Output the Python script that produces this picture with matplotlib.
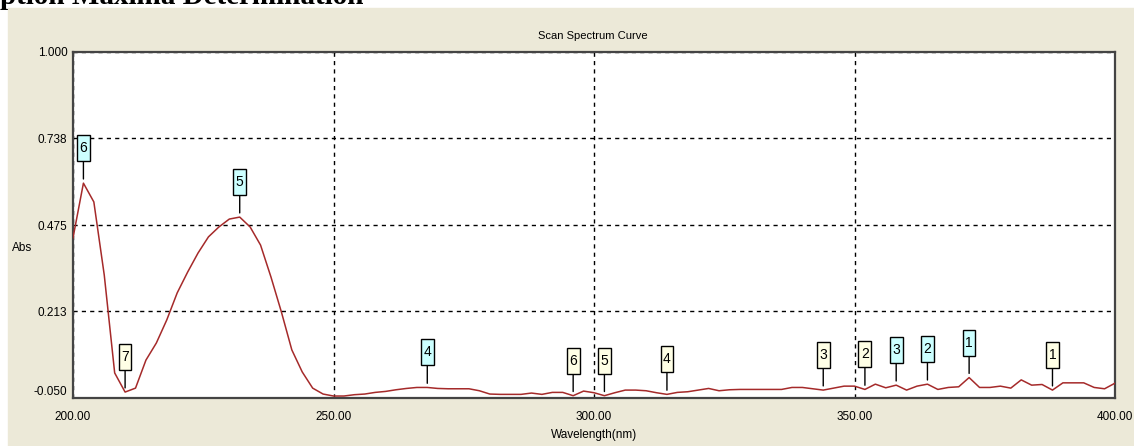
import matplotlib
matplotlib.use('Agg')
import matplotlib.pyplot as plt
from matplotlib.patches import Rectangle
from matplotlib.path import Path
import numpy as np

# scan from 200 to 400 nm, 2 nm step
wavelength = np.arange(200, 401, 2)
absorbance = [
    0.436, 0.602, 0.545, 0.323, 0.026, -0.032, -0.020, 0.065, 0.117, 0.187,   # 200-218
    0.269, 0.332, 0.390, 0.439, 0.469, 0.493, 0.499, 0.469, 0.414, 0.317,     # 220-238
    0.211, 0.096, 0.029, -0.020, -0.038, -0.044, -0.044, -0.040, -0.038, -0.033,  # 240-258
    -0.030, -0.025, -0.021, -0.018, -0.018, -0.021, -0.022, -0.022, -0.022, -0.028,  # 260-278
    -0.038, -0.039, -0.039, -0.039, -0.035, -0.039, -0.033, -0.033, -0.043, -0.029,  # 280-298
    -0.034, -0.043, -0.034, -0.026, -0.026, -0.028, -0.034, -0.039, -0.033, -0.031,  # 300-318
    -0.026, -0.021, -0.028, -0.025, -0.024, -0.024, -0.024, -0.024, -0.024, -0.018,  # 320-338
    -0.018, -0.022, -0.026, -0.020, -0.014, -0.014, -0.024, -0.008, -0.019, -0.011,  # 340-358
    -0.026, -0.014, -0.008, -0.024, -0.018, -0.016, 0.012, -0.018, -0.018, -0.014,   # 360-378
    -0.020, 0.005, -0.011, -0.009, -0.026, -0.004, -0.004, -0.004, -0.018, -0.022,   # 380-398
    -0.005,                                                                          # 400
]

# picked peaks and valleys (nm, tag)
peak_nm = [372, 364, 358, 268, 232, 202]
peak_id = ['1', '2', '3', '4', '5', '6']
valley_nm = [388, 352, 344, 314, 302, 296, 210]
valley_id = ['1', '2', '3', '4', '5', '6', '7']

y_ticks = [-0.050, 0.213, 0.475, 0.738, 1.000]
x_ticks = [200, 250, 300, 350, 400]

W, H = 1134, 446
plt.rcParams['font.family'] = ['Liberation Sans', 'DejaVu Sans']

fig = plt.figure(figsize=(W / 100, H / 100), dpi=100, facecolor='white')
# grey dialog panel behind the plot
fig.patches.append(Rectangle((8 / W, 0), 1 - 8 / W, (H - 8) / H,
                             transform=fig.transFigure, color='#ECE9D8', zorder=-5))
fig.text(0, 1 - 4 / H, 'ption Maxima Determination', family='Liberation Serif',
         weight='bold', fontsize=21, va='baseline', ha='left', zorder=-4)

ax = fig.add_axes([73 / W, 48 / H, (1115 - 73) / W, (398 - 52) / H])
ax.set_facecolor('white')
ax.plot(wavelength, absorbance, color='#A52A2A', lw=1.1, zorder=3)
ax.set_xlim(200, 400)
ax.set_ylim(-0.05, 1.0)
ax.set_xticks(x_ticks)
ax.set_xticklabels(['%.2f' % v for v in x_ticks])
ax.set_yticks(y_ticks)
ax.set_yticklabels(['%.3f' % v for v in y_ticks])
ax.tick_params(length=0, labelsize=8.5, colors='black')
ax.tick_params(axis='x', pad=9)
ax.tick_params(axis='y', pad=4)
ax.get_yticklabels()[0].set_va('bottom')
ax.grid(True, color='black', linestyle=(0, (3, 3)), linewidth=1)
for s in ax.spines.values():
    s.set_color('#444444')
    s.set_linewidth(1.6)


def tall_box(x0, y0, width, height, mutation_size):
    # narrow, tall tag box around the number
    px, py = 2.5, 6.0
    x0, x1 = x0 - px, x0 + width + px
    y0, y1 = y0 - py, y0 + height + py
    return Path([(x0, y0), (x1, y0), (x1, y1), (x0, y1), (x0, y0)], closed=True)


def tag(nm, label, face):
    i = list(wavelength).index(nm)
    ax.annotate(label, xy=(nm, absorbance[i]), xytext=(0, 35), textcoords='offset pixels',
                ha='center', va='center', fontsize=10, zorder=4,
                bbox=dict(boxstyle=tall_box, fc=face, ec='black', lw=1),
                arrowprops=dict(arrowstyle='-', color='black', lw=1, shrinkA=0, shrinkB=3))


for nm, lab in zip(peak_nm, peak_id):
    tag(nm, lab, '#CCFFFF')
for nm, lab in zip(valley_nm, valley_id):
    tag(nm, lab, '#FFFFE6')

fig.text(593 / W, 1 - 36 / H, 'Scan Spectrum Curve', ha='center', va='center', fontsize=8)
fig.text(22 / W, 1 - 248 / H, 'Abs', ha='center', va='center', fontsize=8.5)
fig.text(594 / W, 1 - 435 / H, 'Wavelength(nm)', ha='center', va='center', fontsize=8.5)

fig.savefig('out.png', dpi=100, facecolor='white')
